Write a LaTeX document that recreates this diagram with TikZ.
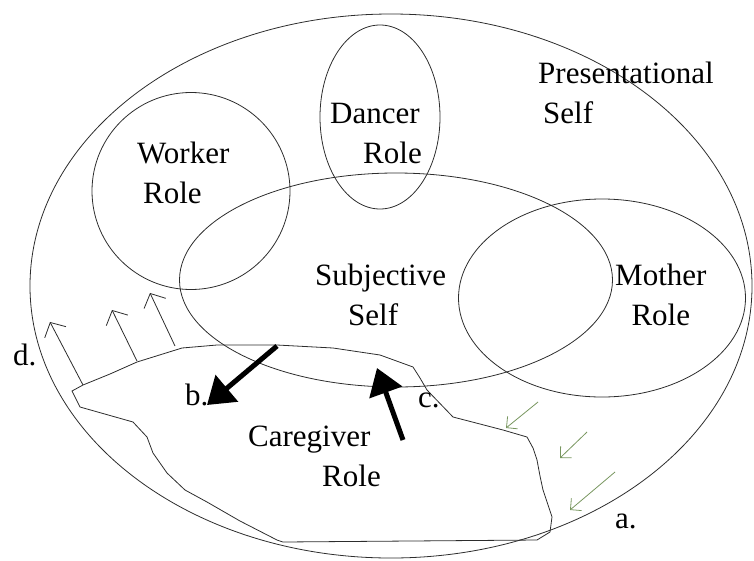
\documentclass[tikz,border=0pt]{standalone}
\usepackage{fontspec}
\setmainfont{Liberation Serif}
\usetikzlibrary{arrows.meta,shapes.geometric}

\definecolor{scanline}{RGB}{45,45,45}
\definecolor{pushgreen}{RGB}{120,150,95}

\begin{document}
\begin{tikzpicture}[x=1pt, y=-1pt,
  ring/.style={draw=scanline, ellipse, inner sep=0pt, line width=0.8pt},
  lbl/.style={font=\fontsize{31}{40}\selectfont, align=left, inner sep=0pt, anchor=base west},
  lift/.style={-{Straight Barb[length=11pt,width=24pt]}, line width=0.8pt, draw=scanline},
  push/.style={-{Straight Barb[length=8pt,width=16pt]}, line width=0.8pt, draw=pushgreen},
  heavy/.style={-{Triangle[length=26pt,width=34pt]}, line width=5pt, draw=black}
]
\useasboundingbox (0,0) rectangle (754,560);

% self and role circles
\node[ring, minimum width=722pt, minimum height=544pt] (present) at (391,286) {};
\node[ring, minimum width=120pt, minimum height=184pt] (dancer) at (380,117) {};
\node[ring, minimum width=198pt, minimum height=197pt] (worker) at (191,191) {};
\node[ring, minimum width=433pt, minimum height=214pt] (subj) at (396,280) {};
\node[ring, minimum width=287pt, minimum height=198pt] (mother) at (602,298) {};

% caregiver region
\draw[draw=scanline, line width=0.8pt] (72,391) -- (83,385) -- (110,374) -- (137,362)
  -- (182,348) -- (217,345) -- (277,345) -- (333,348) -- (380,355) -- (413,367)
  -- (420,378) -- (427,390) -- (453,417) -- (480,424) -- (503,430) -- (527,437)
  -- (533,448) -- (537,460) -- (540,476) -- (543,490) -- (552,517) -- (550,532)
  -- (537,540) -- (283,542) -- (277,540) -- (240,521) -- (207,502) -- (185,490)
  -- (167,473) -- (153,453) -- (147,437) -- (133,422) -- (80,407) -- (75,397) -- cycle;

% labels (base = last line)
\node[lbl] (presentlbl) at (538,123) {Presentational\\\hspace*{5pt}Self};
\node[lbl] (dancerlbl) at (330,163) {Dancer\\\hspace*{33pt}Role};
\node[lbl] (workerlbl) at (137,203) {Worker\\\hspace*{6pt}Role};
\node[lbl] (subjlbl) at (315,325) {Subjective\\\hspace*{33pt}Self};
\node[lbl, align=center] (motherlbl) at (615,325) {Mother\\Role};
\node[lbl] (carelbl) at (248,486) {Caregiver\\\hspace*{74pt}Role};

\node[lbl] (la) at (615,528) {a.};
\node[lbl] (lb) at (185,405) {b.};
\node[lbl] (lc) at (418,407) {c.};
\node[lbl] (ld) at (13,365) {d.};

% arrow ends
\coordinate (d1s) at (83,385);  \coordinate (d1e) at (50,322);
\coordinate (d2s) at (137,361); \coordinate (d2e) at (112,310);
\coordinate (d3s) at (175,346); \coordinate (d3e) at (150,293);
\coordinate (a1s) at (538,402); \coordinate (a1e) at (506,428);
\coordinate (a2s) at (587,432); \coordinate (a2e) at (560,458);
\coordinate (a3s) at (615,472); \coordinate (a3e) at (570,510);
\coordinate (bs) at (277,346);  \coordinate (be) at (207,405);
\coordinate (cs) at (403,440);  \coordinate (ce) at (377,368);

\draw[lift] (d1s) -- (d1e);
\draw[lift] (d2s) -- (d2e);
\draw[lift] (d3s) -- (d3e);
\draw[push] (a1s) -- (a1e);
\draw[push] (a2s) -- (a2e);
\draw[push] (a3s) -- (a3e);
\draw[heavy] (bs) -- (be);
\draw[heavy] (cs) -- (ce);

\end{tikzpicture}
\end{document}
